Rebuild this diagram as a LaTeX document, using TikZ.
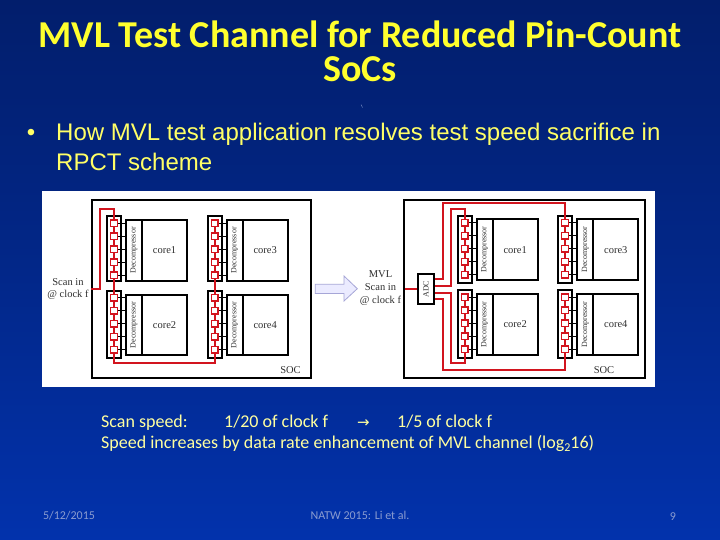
\documentclass[tikz,border=0pt]{standalone}
\usepackage{fontspec}
\setmainfont{Carlito}
\newfontfamily\bodyfont{Liberation Sans}
\newfontfamily\figfont{Liberation Serif}
\newfontfamily\symfont{DejaVu Sans}
\usetikzlibrary{fit}
\pgfdeclarelayer{back}
\pgfdeclarelayer{wirelayer}
\pgfsetlayers{back,wirelayer,main}
\definecolor{bgtop}{HTML}{021E6C}
\definecolor{bgbot}{HTML}{0232AC}
\definecolor{ttl}{HTML}{FFFF2E}
\definecolor{bul}{HTML}{FFFF66}
\definecolor{note}{HTML}{FFFFA0}
\definecolor{foot}{HTML}{8A9CD0}
\definecolor{wirered}{HTML}{D2141E}
\definecolor{figgray}{HTML}{303030}
\tikzset{
  x=1pt,y=-1pt,
  titletext/.style={font=\fontsize{38}{40}\selectfont\bfseries,text=ttl,anchor=base,inner sep=0},
  bullettext/.style={font=\bodyfont\fontsize{24}{28}\selectfont,text=bul,anchor=base west,inner sep=0},
  notetext/.style={font=\fontsize{18}{21}\selectfont,text=note,anchor=base west,inner sep=0},
  foottext/.style={font=\fontsize{12}{14}\selectfont,text=foot,anchor=base,inner sep=0},
  figtext/.style={font=\figfont\fontsize{10.5}{12.8}\selectfont,text=figgray,inner sep=0,align=center},
  dectext/.style={font=\figfont\fontsize{8}{9}\selectfont,text=figgray,inner sep=0,rotate=90},
  blk/.style={draw=black,line width=1.7pt,inner sep=0pt,fill=white},
  chainbox/.style={draw=black,line width=1.7pt,inner sep=0pt},
  sq/.style={draw=wirered,line width=1.5pt,fill=white,minimum size=6.6pt,inner sep=0pt},
  wire/.style={draw=wirered,line width=1.9pt,line join=miter},
  tick/.style={draw=black,line width=1.4pt},
  blockarrow/.style={draw=black!45!blue!35!white,line width=.8pt,fill=blue!8!white,line join=miter}
}
\newcommand{\coreunit}[9]{%
  \begin{pgfonlayer}{back}
    \node[chainbox,fit={(#2,#5)(#3,#6)}] (#1box) {};
  \end{pgfonlayer}
  \node[blk,fit={(#7,\dectop)(#8,\decbot)}] (#1dec) {};
  \node[blk,fit={(#8,\dectop)(#9,\decbot)}] (#1core) {};
  \node[dectext] (#1dectxt) at (#1dec.center) {Decompressor};
  \node[figtext] (#1coretxt) at (#1core.center) {\corelabel};
  \foreach \i/\dy in {1/0,2/13,3/26,4/39,5/52}{
    \node[sq] (#1s\i) at (#4,\ys+\dy) {};
    \begin{pgfonlayer}{back}
      \draw[tick] (#1s\i.center) -- (#7,\ys+\dy);
    \end{pgfonlayer}
  }%
}
\begin{document}
\begin{tikzpicture}
\begin{pgfonlayer}{back}
  \fill[top color=bgtop,bottom color=bgbot,middle color=bgtop!55!bgbot] (0,0) rectangle (720,540);
  \fill[white] (42,191) rectangle (655,387);
  \draw[black,line width=1.7pt] (91.7,200) rectangle (310.7,377.7);
  \draw[black,line width=1.7pt] (404.3,200) rectangle (645,377.7);
\end{pgfonlayer}
\useasboundingbox (0,0) rectangle (720,540);

% titles
\node[titletext] (t1) at (360,47.5) {MVL Test Channel for Reduced Pin-Count};
\node[titletext] (t2) at (360,81.5) {SoCs};
\draw[foot,line width=.4pt] (361,104.5) -- (362.5,107.5);
\node[bullettext,anchor=base] (bd) at (31,141) {•};
\node[bullettext] (b1) at (56,141) {How MVL test application resolves test speed sacrifice in};
\node[bullettext] (b2) at (56,171) {RPCT scheme};

% left panel
\def\dectop{220}\def\decbot{280.7}\def\ys{223.3}\def\corelabel{core1}
\coreunit{La}{106.7}{121}{114}{215.7}{280.7}{126}{141.7}{187.3}
\def\corelabel{core3}
\coreunit{Lc}{207.7}{222}{214.7}{215.7}{280.7}{226.7}{242.7}{287.7}
\def\dectop{294.7}\def\decbot{355.3}\def\ys{297.7}\def\corelabel{core2}
\coreunit{Lb}{106.7}{121}{114}{290.7}{358.3}{126}{141.7}{187.3}
\def\corelabel{core4}
\coreunit{Ld}{207.7}{222}{214.7}{290.7}{358.3}{226.7}{242.7}{287.7}
\coordinate (Lin) at (91,289);
\begin{pgfonlayer}{wirelayer}
  \draw[wire] (Lin) -- (100,289) -- (100,209) -- (114,209) -- (Las1.center)
    -- (Las5.center) -- (Lbs1.center) -- (Lbs5.center) -- (114,363.3) -- (214.7,363.3)
    -- (Lds5.center) -- (Lds1.center) -- (Lcs5.center) -- (Lcs1.center);
\end{pgfonlayer}
\node[figtext] (Lscan) at (68,289) {Scan in\\[0pt]@ clock f};
\node[figtext] (Lsoc) at (290.5,370) {SOC};

% block arrow
\draw[blockarrow] (315.3,284.3) -- (344,284.3) -- (344,276) -- (357.3,288.7) -- (344,301) -- (344,293.5) -- (315.3,293.5) -- cycle;

% right panel
\def\dectop{219.3}\def\decbot{280}\def\ys{222.7}\def\corelabel{core1}
\coreunit{Ra}{457.7}{472}{464.7}{216}{282.7}{476.7}{492.7}{537.7}
\def\corelabel{core3}
\coreunit{Rc}{558.3}{572.3}{565}{216}{282.7}{577.3}{593.3}{638.3}
\def\dectop{294}\def\decbot{355}\def\ys{297.3}\def\corelabel{core2}
\coreunit{Rb}{457.7}{472}{464.7}{290}{357.7}{476.7}{492.7}{537.7}
\def\corelabel{core4}
\coreunit{Rd}{558.3}{572.3}{565}{290}{357.7}{577.3}{593.3}{638.3}
\node[blk,fit={(417.7,274)(434.3,304.3)}] (adc) {};
\node[dectext] (adctxt) at (adc.center) {ADC};
\coordinate (Rin) at (405,289);
\coordinate (o1) at (434.3,278.7);
\coordinate (o2) at (434.3,286);
\coordinate (o3) at (434.3,292.7);
\coordinate (o4) at (434.3,298.7);
\begin{pgfonlayer}{wirelayer}
  \draw[wire] (Rin) -- (adc.west |- Rin);
  \draw[wire] (o1) -- (442.7,278.7) -- (442.7,203.3) -- (565,203.3) -- (Rcs5.center);
  \draw[wire] (o2) -- (450.7,286) -- (450.7,209) -- (464.7,209) -- (Ras5.center);
  \draw[wire] (o3) -- (450.7,292.7) -- (450.7,363.3) -- (464.7,363.3) -- (Rbs1.center);
  \draw[wire] (o4) -- (442.7,298.7) -- (442.7,370) -- (565,370) -- (Rds1.center);
\end{pgfonlayer}
\node[figtext] (Rscan) at (380.5,288) {MVL\\[0pt]Scan in\\[0pt]@ clock f};
\node[figtext] (Rsoc) at (604,370) {SOC};

% notes
\node[notetext] (n1a) at (101,427) {Scan speed:};
\node[notetext] (n1b) at (224,427) {1/20 of clock f};
\node[notetext,font=\symfont\fontsize{15}{16}\selectfont] (n1c) at (357,427) {→};
\node[notetext] (n1d) at (397,427) {1/5 of clock f};
\node[notetext] (n2) at (101,448) {Speed increases by data rate enhancement of MVL channel (log\raisebox{-3pt}{\fontsize{12}{12}\selectfont 2}16)};

% footer
\node[foottext] (f1) at (69,519) {5/12/2015};
\node[foottext] (f2) at (360,519) {NATW 2015: Li et al.};
\node[foottext] (f3) at (673,520) {9};
\end{tikzpicture}
\end{document}
